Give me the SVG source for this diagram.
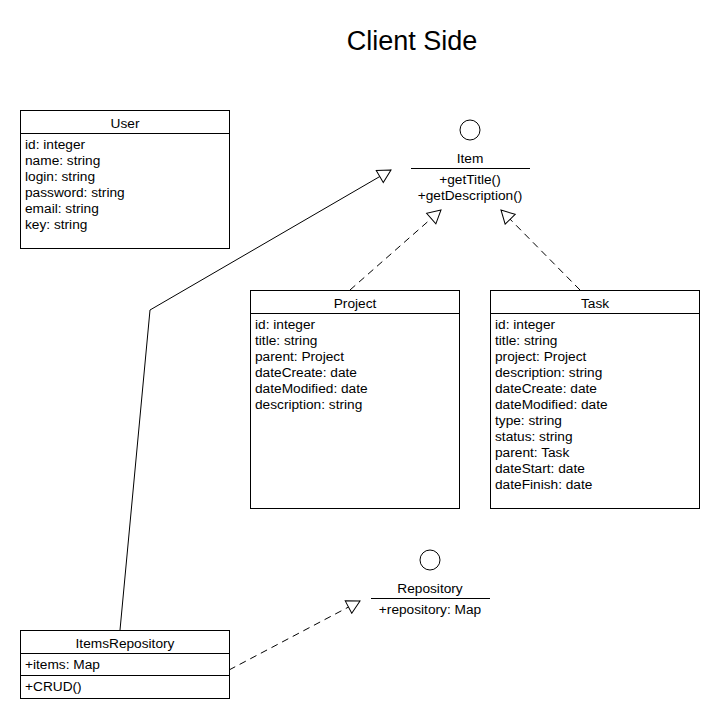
<svg xmlns="http://www.w3.org/2000/svg" width="720" height="720" viewBox="0 0 720 720">
  <defs>
    <style>
      text { font-family: "Liberation Sans", Arial, sans-serif; font-size: 13.7px; fill: #000; }
      .title { font-size: 27px; text-anchor: middle; }
      .c { text-anchor: middle; }
      .box { fill: #fff; stroke: #000; stroke-width: 1; }
      .ln { stroke: #000; stroke-width: 1; fill: none; }
      .dash { stroke-dasharray: 7 5; }
    </style>
    <marker id="tri" viewBox="-14 -8 15 16" refX="0" refY="0" markerWidth="15" markerHeight="16" markerUnits="userSpaceOnUse" orient="auto">
      <path d="M0,0 L-13,-7 L-13,7 Z" fill="#fff" stroke="#000" stroke-width="1"/>
    </marker>
  </defs>
  <rect width="720" height="720" fill="#fff"/>
  <text class="title" x="412" y="50">Client Side</text>

  <g id="connectors">
    <polyline class="ln" points="120,630 150,310 391,170" marker-end="url(#tri)"/>
    <line class="ln dash" x1="350" y1="290" x2="441" y2="210" marker-end="url(#tri)"/>
    <line class="ln dash" x1="580" y1="290" x2="501" y2="210" marker-end="url(#tri)"/>
    <line class="ln dash" x1="229" y1="670" x2="360" y2="601" marker-end="url(#tri)"/>
  </g>

  <g id="User">
    <rect class="box" x="20.5" y="110.5" width="209" height="138"/>
    <line class="ln" x1="20.5" y1="133.5" x2="229.5" y2="133.5"/>
    <text class="c" x="125" y="128">User</text>
    <text x="25" y="149">id: integer</text>
    <text x="25" y="165">name: string</text>
    <text x="25" y="181">login: string</text>
    <text x="25" y="197">password: string</text>
    <text x="25" y="213">email: string</text>
    <text x="25" y="229">key: string</text>
  </g>

  <g id="Item">
    <circle class="ln" cx="470" cy="130" r="10"/>
    <text class="c" x="470" y="163">Item</text>
    <line class="ln" x1="411" y1="168.5" x2="530" y2="168.5"/>
    <text class="c" x="470" y="184">+getTitle()</text>
    <text class="c" x="470" y="200">+getDescription()</text>
  </g>

  <g id="Project">
    <rect class="box" x="250.5" y="290.5" width="209" height="218"/>
    <line class="ln" x1="250.5" y1="313.5" x2="459.5" y2="313.5"/>
    <text class="c" x="355" y="308">Project</text>
    <text x="255" y="329">id: integer</text>
    <text x="255" y="345">title: string</text>
    <text x="255" y="361">parent: Project</text>
    <text x="255" y="377">dateCreate: date</text>
    <text x="255" y="393">dateModified: date</text>
    <text x="255" y="409">description: string</text>
  </g>

  <g id="Task">
    <rect class="box" x="490.5" y="290.5" width="209" height="218"/>
    <line class="ln" x1="490.5" y1="313.5" x2="699.5" y2="313.5"/>
    <text class="c" x="595" y="308">Task</text>
    <text x="495" y="329">id: integer</text>
    <text x="495" y="345">title: string</text>
    <text x="495" y="361">project: Project</text>
    <text x="495" y="377">description: string</text>
    <text x="495" y="393">dateCreate: date</text>
    <text x="495" y="409">dateModified: date</text>
    <text x="495" y="425">type: string</text>
    <text x="495" y="441">status: string</text>
    <text x="495" y="457">parent: Task</text>
    <text x="495" y="473">dateStart: date</text>
    <text x="495" y="489">dateFinish: date</text>
  </g>

  <g id="Repository">
    <circle class="ln" cx="430" cy="560" r="10"/>
    <text class="c" x="430" y="593">Repository</text>
    <line class="ln" x1="371" y1="598.5" x2="490" y2="598.5"/>
    <text class="c" x="430" y="614">+repository: Map</text>
  </g>

  <g id="ItemsRepository">
    <rect class="box" x="20.5" y="630.5" width="209" height="68"/>
    <line class="ln" x1="20.5" y1="653.5" x2="229.5" y2="653.5"/>
    <line class="ln" x1="20.5" y1="675.5" x2="229.5" y2="675.5"/>
    <text class="c" x="125" y="648">ItemsRepository</text>
    <text x="25" y="669">+items: Map</text>
    <text x="25" y="691">+CRUD()</text>
  </g>
</svg>
